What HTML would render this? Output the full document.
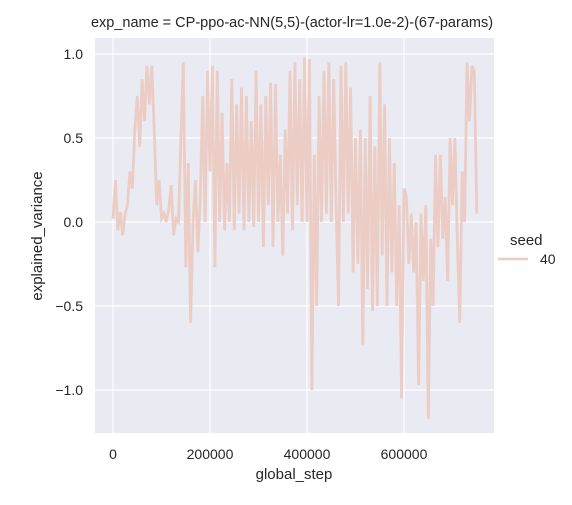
<!DOCTYPE html>
<html><head><meta charset="utf-8"><style>
body{margin:0;background:#fff;}
svg text{font-family:"Liberation Sans",sans-serif;fill:#262626;}
</style></head><body>
<svg id="chart" width="572" height="500" xmlns="http://www.w3.org/2000/svg">
<rect x="95" y="38" width="399" height="395" fill="#eaeaf2"/>
<g id="grid"></g>
<g id="series"></g>
<g id="ticks"></g>
<text x="292" y="27" font-size="14.5" text-anchor="middle">exp_name = CP-ppo-ac-NN(5,5)-(actor-lr=1.0e-2)-(67-params)</text>
<text x="294" y="479" font-size="15" text-anchor="middle">global_step</text>
<text x="42" y="236" font-size="15" text-anchor="middle" transform="rotate(-90 42 236)">explained_variance</text>
<text x="510" y="245" font-size="15">seed</text>
<line x1="498" y1="259" x2="528" y2="259" stroke="#ebcdc5" stroke-width="2.5"/>
<text x="540" y="264" font-size="14">40</text>
</svg>
<script>
const stepInterval = 5000;
const values = [0.02,0.25,-0.05,0.06,-0.08,0.05,0.1,0.3,0.2,0.55,
0.75,0.45,0.85,0.6,0.93,0.7,0.93,0.55,0.1,0.25,
0.02,0.05,0.0,0.08,0.22,-0.08,0.02,0.0,0.5,0.95,
-0.27,0.35,-0.6,0.0,0.25,-0.18,0.15,0.75,0.0,0.9,
0.3,0.93,-0.27,0.9,0.0,0.65,-0.05,0.35,0.0,0.85,
-0.05,0.7,0.05,0.8,-0.05,0.75,0.0,0.6,-0.03,0.9,
0.0,0.7,-0.15,0.75,0.1,0.83,-0.15,0.82,0.0,0.4,
-0.2,0.55,0.05,0.9,-0.05,0.95,0.1,0.85,0.0,0.98,
0.0,0.97,-1.0,0.4,-0.5,0.75,0.0,0.9,0.05,0.95,
0.0,0.85,0.1,-0.5,0.93,0.0,0.95,0.05,0.8,-0.3,
0.5,-0.25,0.55,-0.73,0.5,-0.4,0.75,-0.53,0.45,-0.5,
0.95,-0.2,0.7,-0.5,0.5,-0.3,0.35,-0.5,0.1,-1.05,
0.2,0.15,-0.25,0.05,-0.3,0.0,-0.97,0.05,-0.35,0.1,
-1.17,-0.1,-0.5,0.4,-0.15,0.4,-0.1,0.15,-0.35,0.5,
0.1,0.5,-0.1,-0.6,0.3,0.0,0.95,0.6,0.93,0.9,0.05];
const xTicks = [0,200000,400000,600000];
const yTicks = [1.0,0.5,0.0,-0.5,-1.0];
const yTickLabels = ["1.0","0.5","0.0","−0.5","−1.0"];

const NS="http://www.w3.org/2000/svg";
function xs(s){return 113 + s/200000*97;}
function ys(v){return 222 - v*168;}
const grid=document.getElementById('grid'), ticks=document.getElementById('ticks'), series=document.getElementById('series');
xTicks.forEach(t=>{
  const l=document.createElementNS(NS,'line');
  
  
  l.setAttribute('x1',xs(t));l.setAttribute('x2',xs(t));l.setAttribute('y1',38);l.setAttribute('y2',433);
  l.setAttribute('stroke','#fff');l.setAttribute('stroke-width','1.2');grid.appendChild(l);
  const tx=document.createElementNS(NS,'text');
  
  
  tx.setAttribute('x',xs(t));tx.setAttribute('y',459);tx.setAttribute('font-size','14');tx.setAttribute('text-anchor','middle');
  tx.textContent=String(t);ticks.appendChild(tx);
});
yTicks.forEach((t,i)=>{
  const l=document.createElementNS(NS,'line');
  
  
  l.setAttribute('x1',95);l.setAttribute('x2',494);l.setAttribute('y1',ys(t));l.setAttribute('y2',ys(t));
  l.setAttribute('stroke','#fff');l.setAttribute('stroke-width','1.2');grid.appendChild(l);
  const tx=document.createElementNS(NS,'text');
  
  
  tx.setAttribute('x',83);tx.setAttribute('y',ys(t)+5);tx.setAttribute('font-size','14');tx.setAttribute('text-anchor','end');
  tx.textContent=yTickLabels[i];ticks.appendChild(tx);
});
const p=document.createElementNS(NS,'polyline');


p.setAttribute('points',values.map((v,i)=>xs(i*stepInterval).toFixed(1)+','+ys(v).toFixed(1)).join(' '));
p.setAttribute('fill','none');p.setAttribute('stroke','#ebcdc5');p.setAttribute('stroke-width','2.8');p.setAttribute('stroke-linejoin','miter');
series.appendChild(p);
</script>
</body></html>
